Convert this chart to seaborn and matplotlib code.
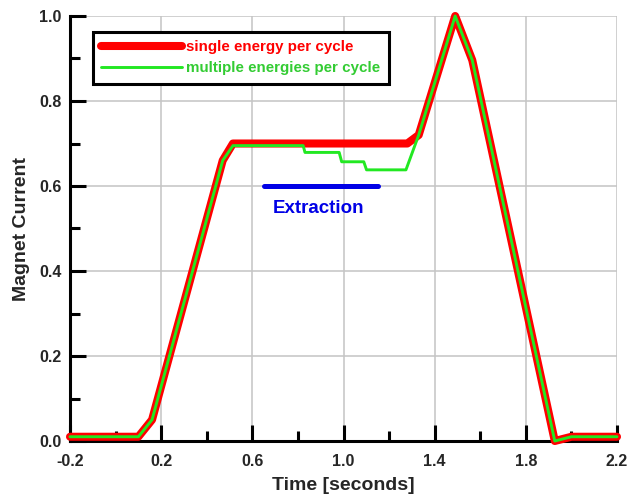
import numpy as np
import pandas as pd
import seaborn as sns
import matplotlib.pyplot as plt

# single energy per cycle (red)
time_single = [-0.2, 0.1, 0.16, 0.47, 0.515, 1.28, 1.33, 1.49, 1.565, 1.927, 2.0, 2.2]
current_single = [0.01, 0.01, 0.05, 0.66, 0.70, 0.70, 0.72, 1.0, 0.896, 0.0, 0.01, 0.01]

# multiple energies per cycle (green)
time_multi = [-0.2, 0.1, 0.16, 0.47, 0.515, 0.823, 0.831, 0.981, 0.992, 1.089, 1.101,
              1.274, 1.33, 1.49, 1.565, 1.927, 2.0, 2.2]
current_multi = [0.01, 0.01, 0.05, 0.66, 0.695, 0.695, 0.679, 0.679, 0.657, 0.657, 0.638,
                 0.638, 0.72, 1.0, 0.896, 0.0, 0.01, 0.01]

# extraction window
extraction_time = [0.65, 1.15]
extraction_level = [0.6, 0.6]

x_ticks = [-0.2, 0.2, 0.6, 1.0, 1.4, 1.8, 2.2]
y_ticks = [0.0, 0.2, 0.4, 0.6, 0.8, 1.0]

sns.set_theme(style="white")
plt.rcParams['font.family'] = ['Liberation Sans', 'DejaVu Sans']
plt.rcParams['font.weight'] = 'bold'

df_single = pd.DataFrame({'t': time_single, 'I': current_single})
df_multi = pd.DataFrame({'t': time_multi, 'I': current_multi})
df_ext = pd.DataFrame({'t': extraction_time, 'I': extraction_level})

fig = plt.figure(figsize=(6.29, 4.94), dpi=100)
ax = fig.add_axes([70 / 629, 1 - 441 / 494, 547 / 629, 425 / 494])

red = '#ff0000'
green = '#22e822'
blue = '#0000e6'

sns.lineplot(data=df_single, x='t', y='I', ax=ax, sort=False, estimator=None,
             color=red, linewidth=5.8, solid_capstyle='round', solid_joinstyle='round',
             clip_on=False, zorder=3, label='single energy per cycle')
sns.lineplot(data=df_multi, x='t', y='I', ax=ax, sort=False, estimator=None,
             color=green, linewidth=2.1, solid_capstyle='round', solid_joinstyle='round',
             clip_on=False, zorder=4, label='multiple energies per cycle')
sns.lineplot(data=df_ext, x='t', y='I', ax=ax, sort=False, estimator=None,
             color=blue, linewidth=3.6, solid_capstyle='round', zorder=3, legend=False)
ax.text(0.89, 0.548, 'Extraction', color=blue, fontsize=13.5, fontweight='bold',
        ha='center', va='center')

ax.set_xlim(-0.2, 2.2)
ax.set_ylim(0.0, 1.0)
ax.set_xticks(x_ticks)
ax.set_xticklabels([f"{v:.1f}" for v in x_ticks])
ax.set_xticks(np.arange(0.0, 2.1, 0.4), minor=True)
ax.set_yticks(y_ticks)
ax.set_yticklabels([f"{v:.1f}" for v in y_ticks])
ax.set_yticks(np.arange(0.1, 1.0, 0.2), minor=True)

ax.grid(True, which='major', color='#c4c4c4', linewidth=1.1)
ax.set_axisbelow(True)
for side in ['top', 'right']:
    ax.spines[side].set_visible(False)
for side in ['left', 'bottom']:
    ax.spines[side].set_color('black')
    ax.spines[side].set_linewidth(2.2)

ax.tick_params(which='major', direction='in', length=11.5, width=2.2, color='black',
               labelsize=11.5, left=True, bottom=True)
ax.tick_params(axis='x', which='major', pad=9)
ax.tick_params(axis='y', which='major', pad=6)
ax.tick_params(which='minor', direction='in', length=7, width=2.2, color='black',
               left=True, bottom=True)
for lab in ax.get_xticklabels() + ax.get_yticklabels():
    lab.set_fontweight('bold')

ax.set_xlabel('Time [seconds]', fontsize=14, fontweight='bold', labelpad=6)
ax.set_ylabel('Magnet Current', fontsize=14, fontweight='bold', labelpad=7)

leg = ax.legend(loc='upper left', bbox_to_anchor=(0.042, 0.962), borderaxespad=0,
                fancybox=False, edgecolor='black', framealpha=1, handlelength=5.3,
                handletextpad=0.3, fontsize=10.9, borderpad=0.55, labelspacing=0.45)
leg.get_frame().set_linewidth(2.2)
leg.set_zorder(5)
for txt, col in zip(leg.get_texts(), [red, '#33cc33']):
    txt.set_color(col)
    txt.set_fontweight('bold')

fig.savefig('out.png', dpi=100)
